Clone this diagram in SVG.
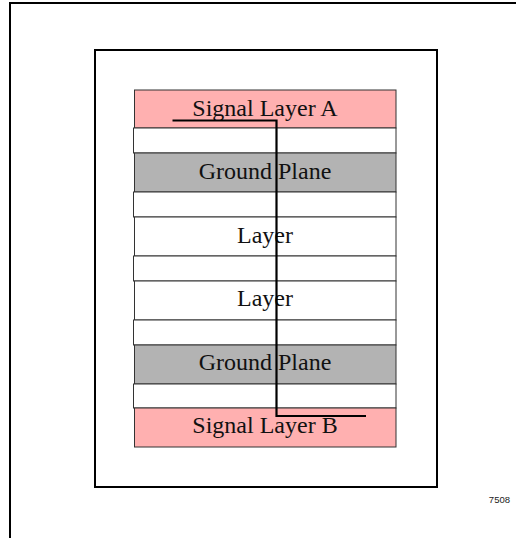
<svg xmlns="http://www.w3.org/2000/svg" width="516" height="538" viewBox="0 0 516 538">
<style>
.frame{fill:none;stroke:#000;stroke-width:2}
.lyr{stroke:#333;stroke-width:1}
.sig{fill:#FFB0B0}
.gnd{fill:#B3B3B3}
.wht{fill:#fff}
.lbl{font-family:"Liberation Serif","Times New Roman",serif;font-size:24px;fill:#111;text-anchor:middle}
.via{fill:none;stroke:#000;stroke-width:2.2}
</style>
<rect width="516" height="538" fill="#fff"/>
<g id="frame">
<polyline class="frame" points="10,538 10,3 516,3"/>
<rect class="frame" x="95" y="50" width="342" height="437"/>
</g>
<g id="signal-a"><rect class="lyr sig" x="134.5" y="90" width="261.5" height="38"/><text class="lbl" x="265" y="116">Signal Layer A</text></g>
<g id="d1"><rect class="lyr wht" x="133.5" y="128" width="262.5" height="25"/></g>
<g id="ground-1"><rect class="lyr gnd" x="134.5" y="153" width="261.5" height="39"/><text class="lbl" x="265" y="179">Ground Plane</text></g>
<g id="d2"><rect class="lyr wht" x="133.5" y="192" width="262.5" height="25"/></g>
<g id="layer-1"><rect class="lyr wht" x="134.5" y="217" width="261.5" height="39"/><text class="lbl" x="265" y="243">Layer</text></g>
<g id="d3"><rect class="lyr wht" x="133.5" y="256" width="262.5" height="25"/></g>
<g id="layer-2"><rect class="lyr wht" x="134.5" y="281" width="261.5" height="39"/><text class="lbl" x="265" y="306">Layer</text></g>
<g id="d4"><rect class="lyr wht" x="133.5" y="320" width="262.5" height="25"/></g>
<g id="ground-2"><rect class="lyr gnd" x="134.5" y="345" width="261.5" height="39"/><text class="lbl" x="265" y="370">Ground Plane</text></g>
<g id="d5"><rect class="lyr wht" x="133.5" y="384" width="262.5" height="24"/></g>
<g id="signal-b"><rect class="lyr sig" x="134.5" y="408" width="261.5" height="39"/><text class="lbl" x="265" y="433">Signal Layer B</text></g>
<g id="connectors">
<polyline class="via" points="172.5,120.5 276.5,120.5 276.5,416 366,416"/>
</g>
<text x="510" y="503" font-family="Liberation Sans, Arial, sans-serif" font-size="9.5" fill="#222" text-anchor="end">7508</text>
</svg>
